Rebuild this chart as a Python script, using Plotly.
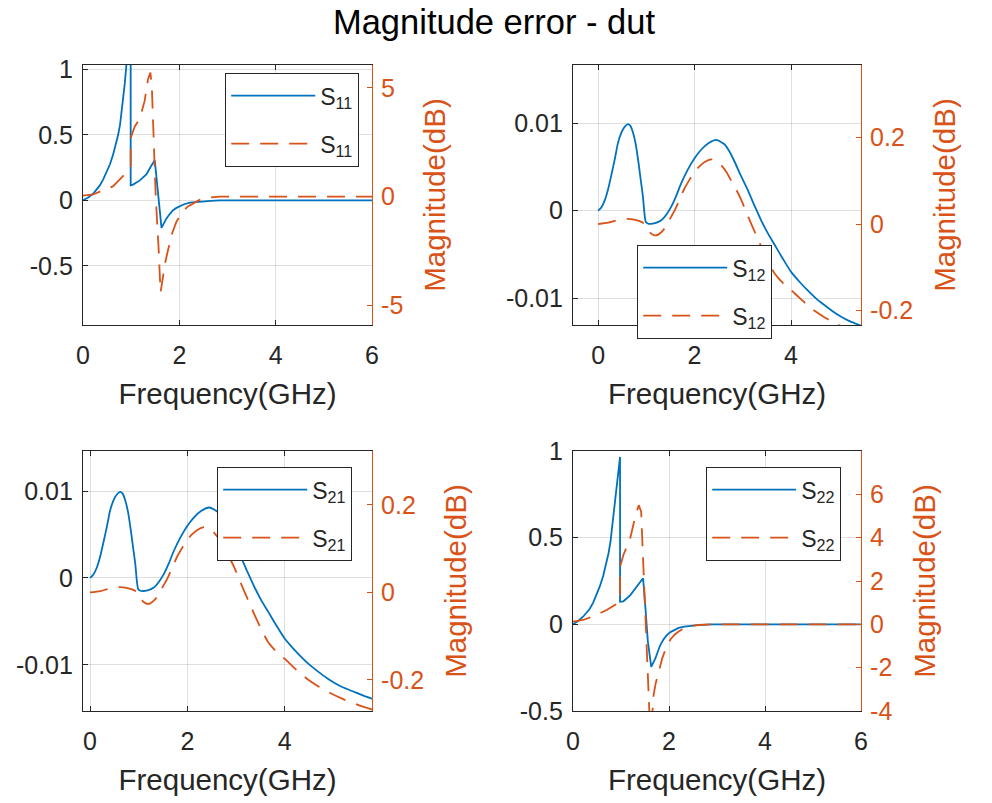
import plotly.graph_objects as go

# ---- S11: linear magnitude error and dB error ----
f_s11_lin = [0, 0.1, 0.21, 0.28, 0.35, 0.42, 0.49, 0.56, 0.62, 0.68, 0.73, 0.77, 0.80,
             0.84, 0.87, 0.90, 0.94, 0.99, 0.99, 1.04, 1.18, 1.32, 1.42, 1.49, 1.63,
             1.68, 1.73, 1.80, 1.87, 1.94, 2.01, 2.10, 2.22, 2.35, 2.49, 2.65, 2.84,
             3.5, 4.5, 6.0]
s11_lin = [0, 0.02, 0.05, 0.078, 0.114, 0.16, 0.216, 0.275, 0.343, 0.42, 0.5, 0.58, 0.67,
           0.78, 0.9, 1.03, 1.2, 1.35, 0.114, 0.12, 0.152, 0.2, 0.266, 0.305, -0.21,
           -0.175, -0.14, -0.105, -0.076, -0.058, -0.043, -0.03, -0.018, -0.012, -0.008,
           -0.004, 0, 0, 0, 0]
f_s11_db = [0, 0.21, 0.35, 0.49, 0.62, 0.76, 0.88, 0.99, 0.99, 1.07, 1.18, 1.28, 1.35,
            1.40, 1.43, 1.46, 1.51, 1.57, 1.61, 1.66, 1.70, 1.75, 1.84, 1.94, 2.01,
            2.08, 2.18, 2.29, 2.42, 2.56, 2.70, 2.84, 3.5, 4.5, 6.0]
s11_db = [0.05, 0.1, 0.23, 0.35, 0.47, 0.78, 1.05, 1.32, 2.7, 3.2, 3.6, 4.4, 5.4,
          5.7, 5.0, 3.2, 0.0, -2.4, -4.4, -3.7, -3.1, -2.6, -1.75, -1.15, -0.9,
          -0.65, -0.45, -0.3, -0.15, -0.06, -0.02, 0, 0, 0, 0]

# ---- S12 / S21: transmission terms ----
f_tr_lin = [0, 0.07, 0.14, 0.21, 0.28, 0.35, 0.41, 0.48, 0.55, 0.62, 0.67, 0.72, 0.78,
            0.83, 0.88, 0.93, 0.99, 1.05, 1.10, 1.20, 1.31, 1.42, 1.52, 1.62, 1.72,
            1.86, 2.0, 2.14, 2.28, 2.45, 2.62, 2.72, 2.83, 2.96, 3.1, 3.24, 3.38,
            3.52, 3.66, 3.83, 4.0, 4.17, 4.34, 4.51, 4.69, 4.86, 5.03, 5.2, 5.38,
            5.6, 5.8]
tr_lin = [0, 0.0004, 0.0012, 0.0025, 0.0042, 0.006, 0.0077, 0.0089, 0.0096, 0.0099,
          0.0097, 0.009, 0.0076, 0.0058, 0.0037, 0.0016, -0.0013, -0.0015, -0.0015,
          -0.0014, -0.0011, -0.0004, 0.0005, 0.0017, 0.0031, 0.0047, 0.006, 0.007,
          0.0077, 0.0081, 0.0076, 0.0068, 0.0056, 0.004, 0.0024, 0.0006, -0.0011,
          -0.0026, -0.0039, -0.0055, -0.007, -0.0081, -0.0091, -0.01, -0.0108,
          -0.0115, -0.0121, -0.0126, -0.013, -0.0135, -0.0139]
f_tr_db = [0, 0.21, 0.41, 0.62, 0.83, 0.95, 0.99, 1.05, 1.10, 1.17, 1.24, 1.31, 1.38,
           1.48, 1.59, 1.69, 1.79, 1.90, 2.0, 2.10, 2.21, 2.34, 2.45, 2.55, 2.66,
           2.76, 2.87, 2.97, 3.07, 3.17, 3.28, 3.38, 3.52, 3.66, 3.83, 4.0, 4.17,
           4.34, 4.51, 4.69, 4.93, 5.2, 5.5, 5.8]
tr_db = [0.0, 0.003, 0.009, 0.012, 0.008, 0.002, -0.003, -0.015, -0.022, -0.026,
         -0.025, -0.019, -0.01, 0.01, 0.032, 0.057, 0.082, 0.103, 0.121, 0.133, 0.143,
         0.149, 0.146, 0.136, 0.12, 0.1, 0.078, 0.055, 0.028, 0.0015, -0.026, -0.052,
         -0.085, -0.114, -0.136, -0.152, -0.17, -0.187, -0.202, -0.215, -0.23, -0.244,
         -0.257, -0.268]

s12_lin, s12_db = tr_lin, tr_db
s21_lin, s21_db = tr_lin, tr_db

# ---- S22 ----
f_s22_lin = [0, 0.1, 0.21, 0.28, 0.35, 0.42, 0.49, 0.56, 0.63, 0.69, 0.74, 0.78, 0.81,
             0.85, 0.88, 0.92, 0.95, 0.98, 0.98, 1.05, 1.19, 1.33, 1.46, 1.51, 1.56,
             1.63, 1.67, 1.72, 1.77, 1.82, 1.89, 1.96, 2.03, 2.11, 2.20, 2.32, 2.45,
             2.6, 2.88, 3.5, 4.5, 6.0]
s22_lin = [0, 0.018, 0.044, 0.065, 0.09, 0.125, 0.17, 0.22, 0.28, 0.345, 0.41, 0.475,
           0.55, 0.635, 0.72, 0.81, 0.89, 0.966, 0.13, 0.133, 0.167, 0.215, 0.266, 0.09,
           -0.1, -0.245, -0.225, -0.194, -0.155, -0.118, -0.085, -0.061, -0.045, -0.032,
           -0.021, -0.013, -0.008, -0.004, 0, 0, 0, 0]
f_s22_db = [0, 0.21, 0.49, 0.70, 0.88, 0.98, 0.98, 1.05, 1.19, 1.30, 1.37, 1.42, 1.46,
            1.51, 1.54, 1.59, 1.63, 1.68, 1.72, 1.77, 1.86, 1.96, 2.03, 2.11, 2.20,
            2.32, 2.45, 2.6, 2.88, 3.5, 4.5, 6.0]
s22_db = [0.12, 0.2, 0.43, 0.66, 0.9, 1.12, 2.65, 3.2, 3.95, 5.0, 5.5, 5.2, 3.0,
          0.4, -1.9, -4.0, -4.8, -3.25, -2.75, -2.3, -1.56, -0.95, -0.7, -0.49, -0.33,
          -0.18, -0.09, -0.03, 0, 0, 0, 0]

# ---- axis settings per panel ----
names = ["11", "12", "21", "22"]
x_ranges = [[0, 6], [-0.52, 5.45], [-0.144, 5.79], [0, 6]]
x_ticks = [[0, 2, 4, 6], [0, 2, 4], [0, 2, 4], [0, 2, 4, 6]]
left_ranges = [[-0.952, 1.033], [-0.01308, 0.01667], [-0.0153, 0.0146], [-0.5, 1.0]]
left_ticks = [[-0.5, 0, 0.5, 1], [-0.01, 0, 0.01], [-0.01, 0, 0.01], [-0.5, 0, 0.5, 1]]
right_ranges = [[-5.9, 6.05], [-0.233, 0.367], [-0.271, 0.323], [-4, 8]]
right_ticks = [[-5, 0, 5], [-0.2, 0, 0.2], [-0.2, 0, 0.2], [-4, -2, 0, 2, 4, 6]]

lin_data = [(f_s11_lin, s11_lin), (f_tr_lin, s12_lin), (f_tr_lin, s21_lin), (f_s22_lin, s22_lin)]
db_data = [(f_s11_db, s11_db), (f_tr_db, s12_db), (f_tr_db, s21_db), (f_s22_db, s22_db)]
smooth = [False, True, True, False]

BLUE = "#0072BD"
ORANGE = "#D95319"
AXIS = "#262626"
GRID = "rgba(38,38,38,0.15)"
FONT = "Liberation Sans, Arial, sans-serif"
W, H = 992, 803
TICK = 25
LABEL = 29.5


def tick_text(vals):
    # plain hyphen for negative numbers
    return [("%g" % v) for v in vals]


# panel boxes in pixels: left, right, top, bottom
boxes = [(83, 372, 65, 325), (573, 861, 65, 325), (83, 372, 451, 711), (573, 861, 451, 711)]
# legend top-left corners in pixels
legend_pos = [(225, 73), (637, 245), (217, 467), (706, 467)]

fig = go.Figure()
layout = dict(
    template="none",
    width=W, height=H,
    margin=dict(l=0, r=0, t=0, b=0, autoexpand=False),
    paper_bgcolor="white", plot_bgcolor="white",
    font=dict(family=FONT, color=AXIS, size=TICK),
    title=dict(text="Magnitude error - dut", x=0.498, y=1 - 22 / H,
               xanchor="center", yanchor="middle",
               font=dict(size=34.5, color="#000000", family=FONT)),
)

for i in range(4):
    k = i + 1
    xa = "x" if k == 1 else f"x{k}"
    yl = "y" if k == 1 else f"y{2 * k - 1}"
    yr = f"y{2 * k}"
    leg = "legend" if k == 1 else f"legend{k}"
    label = f"S<sub>{names[i]}</sub>"
    shape = "spline" if smooth[i] else "linear"

    fig.add_trace(go.Scatter(
        x=lin_data[i][0], y=lin_data[i][1], mode="lines", name=label,
        line=dict(color=BLUE, width=1.8, shape=shape, smoothing=0.6),
        xaxis=xa, yaxis=yl, legend=leg, legendgroup=f"{k}a"))
    fig.add_trace(go.Scatter(
        x=db_data[i][0], y=db_data[i][1], mode="lines", name=label,
        line=dict(color=ORANGE, width=1.8, dash="18px,11px", shape=shape, smoothing=0.6),
        xaxis=xa, yaxis=yr, legend=leg, legendgroup=f"{k}b"))

    l, r, t, b = boxes[i]
    xdom = [l / W, r / W]
    ydom = [1 - b / H, 1 - t / H]
    xkey = "xaxis" if k == 1 else f"xaxis{k}"
    ylkey = "yaxis" if k == 1 else f"yaxis{2 * k - 1}"
    yrkey = f"yaxis{2 * k}"

    layout[xkey] = dict(
        domain=xdom, anchor=yl, range=x_ranges[i],
        tickvals=x_ticks[i], ticktext=tick_text(x_ticks[i]), automargin=False,
        showline=True, linecolor=AXIS, linewidth=1.2, mirror="ticks",
        ticks="inside", ticklen=5, tickcolor=AXIS,
        showgrid=True, gridcolor=GRID, zeroline=False,
        tickfont=dict(size=TICK, color=AXIS), ticklabelstandoff=8,
        title=dict(text="Frequency(GHz)", font=dict(size=LABEL, color=AXIS), standoff=15),
    )
    layout[ylkey] = dict(
        domain=ydom, anchor=xa, range=left_ranges[i],
        tickvals=left_ticks[i], ticktext=tick_text(left_ticks[i]), automargin=False,
        showline=True, linecolor=AXIS, linewidth=1.2,
        ticks="inside", ticklen=5, tickcolor=AXIS,
        showgrid=True, gridcolor=GRID, zeroline=False,
        tickfont=dict(size=TICK, color=AXIS), ticklabelstandoff=4,
    )
    layout[yrkey] = dict(
        overlaying=yl, side="right", anchor=xa, range=right_ranges[i],
        tickvals=right_ticks[i], ticktext=tick_text(right_ticks[i]), automargin=False,
        showline=True, linecolor=ORANGE, linewidth=1.2,
        ticks="inside", ticklen=5, tickcolor=ORANGE,
        showgrid=False, zeroline=False,
        tickfont=dict(size=TICK, color=ORANGE), ticklabelstandoff=3,
        title=dict(text="Magnitude(dB)", font=dict(size=LABEL, color=ORANGE), standoff=22),
    )
    lx, ly = legend_pos[i]
    layout[leg] = dict(
        x=lx / W, y=1 - ly / H, xanchor="left", yanchor="top",
        bgcolor="white", bordercolor=AXIS, borderwidth=1.2,
        font=dict(size=23, color=AXIS), itemwidth=84, tracegroupgap=15,
    )

fig.update_layout(**layout)
fig.write_html("out.html")
